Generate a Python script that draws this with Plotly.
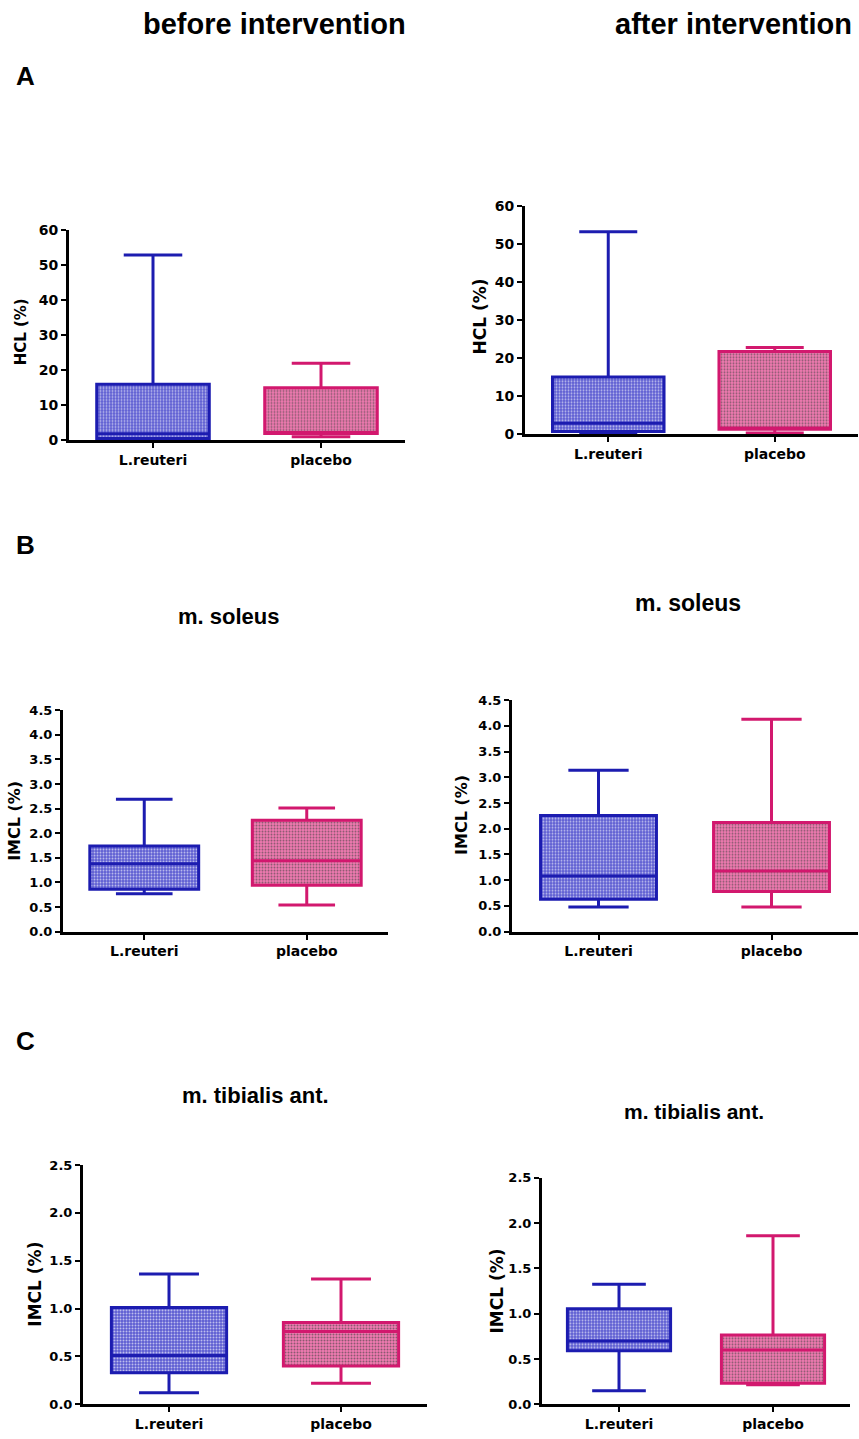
import plotly.graph_objects as go

W, H = 859, 1439

groups = ["L.reuteri", "placebo"]
colors = ["#1c1cb0", "#d2186e"]
fill_colors = ["#5c5cd2", "#f07ab0"]

# Five-number summaries per group: [L.reuteri, placebo]
hcl_before_min = [0.3, 1.0]
hcl_before_q1 = [0.5, 1.9]
hcl_before_med = [1.8, 2.0]
hcl_before_q3 = [16.0, 15.0]
hcl_before_max = [53.0, 22.0]

hcl_after_min = [0.3, 0.3]
hcl_after_q1 = [0.7, 1.3]
hcl_after_med = [2.9, 1.6]
hcl_after_q3 = [15.0, 21.7]
hcl_after_max = [53.2, 22.8]

sol_before_min = [0.77, 0.54]
sol_before_q1 = [0.86, 0.94]
sol_before_med = [1.38, 1.44]
sol_before_q3 = [1.74, 2.26]
sol_before_max = [2.69, 2.51]

sol_after_min = [0.48, 0.48]
sol_after_q1 = [0.63, 0.78]
sol_after_med = [1.08, 1.18]
sol_after_q3 = [2.26, 2.12]
sol_after_max = [3.14, 4.13]

tib_before_min = [0.12, 0.22]
tib_before_q1 = [0.33, 0.40]
tib_before_med = [0.51, 0.76]
tib_before_q3 = [1.01, 0.855]
tib_before_max = [1.36, 1.31]

tib_after_min = [0.15, 0.215]
tib_after_q1 = [0.59, 0.233]
tib_after_med = [0.70, 0.60]
tib_after_q3 = [1.055, 0.764]
tib_after_max = [1.325, 1.86]

hcl_ticks = [0, 10, 20, 30, 40, 50, 60]
sol_ticks = [0.0, 0.5, 1.0, 1.5, 2.0, 2.5, 3.0, 3.5, 4.0, 4.5]
tib_ticks = [0.0, 0.5, 1.0, 1.5, 2.0, 2.5]


def xdom(a, b):
    return [a / W, min(b / W, 1.0)]


def ydom(top, bottom):
    return [1 - bottom / H, 1 - top / H]


# (stats, y ticks, tick format, x pixel span, y pixel span, tick font size)
panels = [
    ((hcl_before_min, hcl_before_q1, hcl_before_med, hcl_before_q3, hcl_before_max),
     hcl_ticks, "d", (69, 405), (225, 437), 14),
    ((hcl_after_min, hcl_after_q1, hcl_after_med, hcl_after_q3, hcl_after_max),
     hcl_ticks, "d", (525, 858), (200, 431), 14),
    ((sol_before_min, sol_before_q1, sol_before_med, sol_before_q3, sol_before_max),
     sol_ticks, ".1f", (63, 388), (710, 934), 13),
    ((sol_after_min, sol_after_q1, sol_after_med, sol_after_q3, sol_after_max),
     sol_ticks, ".1f", (512, 858), (700, 934), 13),
    ((tib_before_min, tib_before_q1, tib_before_med, tib_before_q3, tib_before_max),
     tib_ticks, ".1f", (83, 427), (1170, 1412), 13),
    ((tib_after_min, tib_after_q1, tib_after_med, tib_after_q3, tib_after_max),
     tib_ticks, ".1f", (542, 850), (1183, 1412), 13),
]

fig = go.Figure()
layout_axes = {}
BOXW = 0.67

for i, (stats, ticks, fmt, xs, ys, tfs) in enumerate(panels):
    n = i + 1
    xa = "x" if n == 1 else f"x{n}"
    ya = "y" if n == 1 else f"y{n}"
    lo, q1, med, q3, hi = stats

    # dotted fill of the interquartile boxes
    fig.add_trace(go.Bar(
        x=groups, y=[b - a for a, b in zip(q1, q3)], base=q1, width=BOXW,
        marker=dict(color=fill_colors, line=dict(width=0),
                    pattern=dict(shape=".", fgcolor="white", fgopacity=0.6,
                                 fillmode="overlay", size=3, solidity=0.35)),
        xaxis=xa, yaxis=ya, showlegend=False, hoverinfo="skip"))

    for g in range(2):
        fig.add_trace(go.Box(
            x=[groups[g]], q1=[q1[g]], median=[med[g]], q3=[q3[g]],
            lowerfence=[lo[g]], upperfence=[hi[g]],
            width=BOXW, whiskerwidth=0.52, boxpoints=False,
            line=dict(color=colors[g], width=3),
            fillcolor="rgba(0,0,0,0)",
            xaxis=xa, yaxis=ya, showlegend=False))

    key = "" if n == 1 else str(n)
    layout_axes[f"xaxis{key}"] = dict(
        domain=xdom(*xs), anchor=ya, type="category",
        categoryorder="array", categoryarray=groups, range=[-0.5, 1.5],
        showline=True, linecolor="black", linewidth=3,
        ticks="outside", ticklen=5, tickwidth=2, tickcolor="black",
        showgrid=False, zeroline=False,
        tickfont=dict(family="DejaVu Sans", size=14, color="black", weight="bold"))
    layout_axes[f"yaxis{key}"] = dict(
        domain=ydom(*ys), anchor=xa, range=[ticks[0], ticks[-1]],
        tickvals=ticks, tickformat=fmt,
        showline=True, linecolor="black", linewidth=3,
        ticks="outside", ticklen=5, tickwidth=2, tickcolor="black",
        showgrid=False, zeroline=False,
        tickfont=dict(family="DejaVu Sans", size=tfs, color="black", weight="bold"))

ann = []


def text(x, y, s, size, family="Liberation Sans, Arial", angle=0):
    ann.append(dict(x=x / W, y=1 - y / H, xref="paper", yref="paper", text=s,
                    showarrow=False, xanchor="center", yanchor="middle",
                    textangle=angle,
                    font=dict(family=family, size=size, color="black", weight="bold")))


text(274, 16, "before intervention", 29)
text(733, 16, "after intervention", 29)
text(25, 69, "A", 26)
text(25, 543, "B", 26)
text(25, 1045, "C", 26)
text(228, 615, "m. soleus", 22)
text(688, 602, "m. soleus", 23)
text(255, 1100, "m. tibialis ant.", 22)
text(694, 1116, "m. tibialis ant.", 21)
text(21, 328, "HCL (%)", 15, "DejaVu Sans", -90)
text(480, 312, "HCL (%)", 17, "DejaVu Sans", -90)
text(15, 822, "IMCL (%)", 16, "DejaVu Sans", -90)
text(462, 816, "IMCL (%)", 16, "DejaVu Sans", -90)
text(35, 1291, "IMCL (%)", 17, "DejaVu Sans", -90)
text(497, 1298, "IMCL (%)", 17, "DejaVu Sans", -90)

fig.update_layout(
    width=W, height=H, margin=dict(l=0, r=0, t=0, b=0),
    paper_bgcolor="white", plot_bgcolor="white",
    barmode="overlay", boxmode="overlay",
    annotations=ann, showlegend=False,
    **layout_axes)

fig.write_html("out.html")
